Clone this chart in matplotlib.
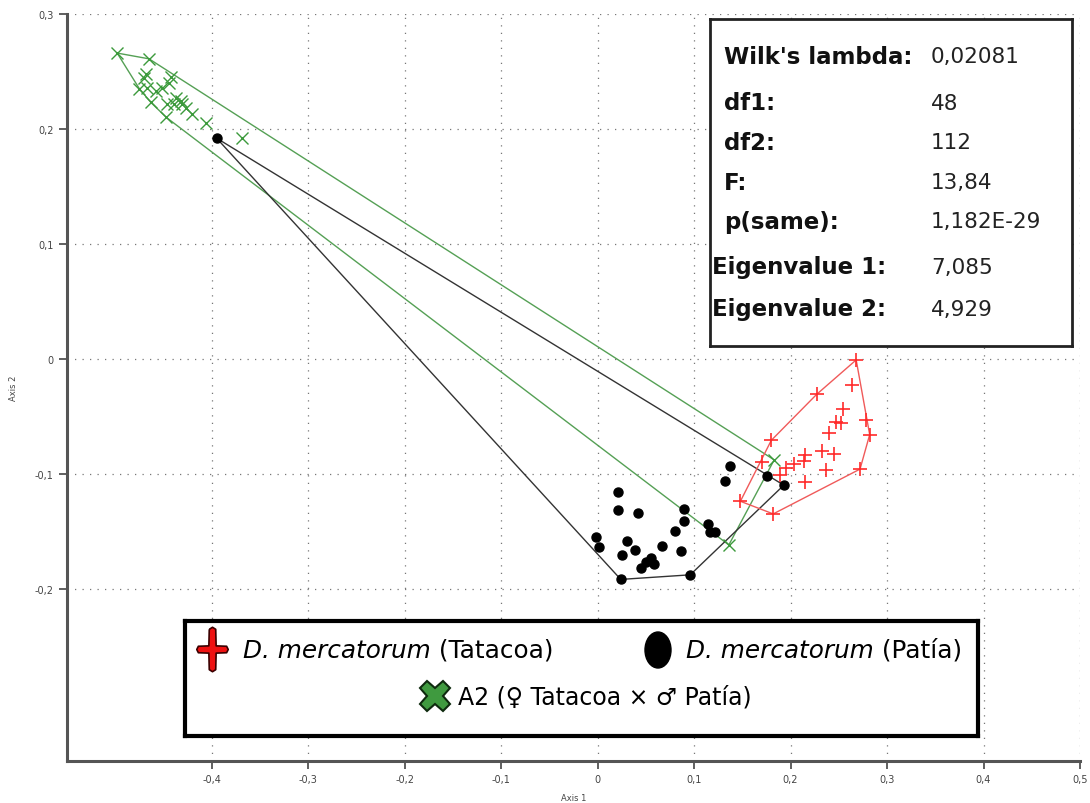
import numpy as np
import matplotlib
matplotlib.use("Agg")
import matplotlib.pyplot as plt
from matplotlib.path import Path
from matplotlib.patches import Ellipse
from matplotlib.ticker import FuncFormatter

# Discriminant scores (Axis 1, Axis 2) for each group
tatacoa_x = [0.268, 0.264, 0.227, 0.254, 0.278, 0.282, 0.247, 0.252, 0.240, 0.233,
             0.245, 0.215, 0.214, 0.204, 0.195, 0.189, 0.237, 0.272, 0.215, 0.180,
             0.170, 0.148, 0.182]
tatacoa_y = [-0.001, -0.023, -0.031, -0.044, -0.053, -0.066, -0.055, -0.056, -0.065, -0.080,
             -0.083, -0.084, -0.089, -0.092, -0.095, -0.101, -0.097, -0.096, -0.107, -0.071,
             -0.090, -0.124, -0.135]

patia_x = [-0.395, 0.137, 0.132, 0.176, 0.193, 0.021, 0.021, 0.042, 0.090, 0.090,
           -0.002, 0.001, 0.030, 0.025, 0.039, 0.067, 0.080, 0.086, 0.114, 0.117,
           0.122, 0.055, 0.050, 0.045, 0.058, 0.024, 0.096]
patia_y = [0.192, -0.093, -0.106, -0.102, -0.110, -0.116, -0.132, -0.134, -0.131, -0.141,
           -0.155, -0.164, -0.159, -0.171, -0.166, -0.163, -0.150, -0.167, -0.144, -0.151,
           -0.151, -0.173, -0.177, -0.182, -0.179, -0.192, -0.188]

a2_x = [-0.498, -0.465, -0.468, -0.470, -0.442, -0.444, -0.475, -0.467, -0.458, -0.452,
        -0.437, -0.432, -0.431, -0.439, -0.427, -0.446, -0.420, -0.463, -0.447, -0.406,
        -0.369, 0.183, 0.136]
a2_y = [0.266, 0.261, 0.248, 0.244, 0.245, 0.240, 0.235, 0.236, 0.233, 0.236,
        0.227, 0.224, 0.222, 0.222, 0.218, 0.222, 0.213, 0.223, 0.210, 0.205,
        0.192, -0.088, -0.162]

x_ticks = [-0.4, -0.3, -0.2, -0.1, 0, 0.1, 0.2, 0.3, 0.4, 0.5]
y_ticks = [-0.2, -0.1, 0, 0.1, 0.2, 0.3]

stat_labels = ["Wilk's lambda:", "df1:", "df2:", "F:", "p(same):",
               "Eigenvalue 1:", "Eigenvalue 2:"]
stat_values = ["0,02081", "48", "112", "13,84", "1,182E-29", "7,085", "4,929"]


def convex_hull(xs, ys):
    pts = sorted(set(zip(xs, ys)))

    def cross(o, a, b):
        return (a[0] - o[0]) * (b[1] - o[1]) - (a[1] - o[1]) * (b[0] - o[0])

    lower, upper = [], []
    for p in pts:
        while len(lower) >= 2 and cross(lower[-2], lower[-1], p) <= 0:
            lower.pop()
        lower.append(p)
    for p in reversed(pts):
        while len(upper) >= 2 and cross(upper[-2], upper[-1], p) <= 0:
            upper.pop()
        upper.append(p)
    h = lower[:-1] + upper[:-1]
    h.append(h[0])
    return [p[0] for p in h], [p[1] for p in h]


W, H = 1090, 804
fig = plt.figure(figsize=(W / 100, H / 100), dpi=100)
ax = fig.add_axes([67 / W, 1 - 762 / H, (1080 - 67) / W, (762 - 15) / H])

ax.set_xlim(-0.55, 0.5)
ax.set_ylim(-0.35, 0.3)

green = "#3c9a3c"
red = "#ff2a2a"

# convex hulls
hx, hy = convex_hull(a2_x, a2_y)
ax.plot(hx, hy, color="#55a055", lw=1.0, zorder=2)
hx, hy = convex_hull(patia_x, patia_y)
ax.plot(hx, hy, color="#333333", lw=1.0, zorder=2)
hx, hy = convex_hull(tatacoa_x, tatacoa_y)
ax.plot(hx, hy, color="#f05a5a", lw=1.0, zorder=2)

ax.plot(a2_x, a2_y, "x", color=green, ms=8, mew=1.0, zorder=3)
ax.plot(patia_x, patia_y, "o", color="black", ms=6.5, zorder=3)
ax.plot(tatacoa_x, tatacoa_y, "+", color=red, ms=10, mew=1.2, zorder=3)

ax.set_xticks(x_ticks)
ax.set_yticks(y_ticks)
fmt = FuncFormatter(lambda v, _: ("%g" % v).replace(".", ",") if abs(v) > 1e-9 else "0")
ax.xaxis.set_major_formatter(fmt)
ax.yaxis.set_major_formatter(fmt)
ax.tick_params(labelsize=7, length=6, width=1.2, colors="#444444", direction="out")
ax.grid(True, color="#777777", lw=0.9, linestyle=(0, (1, 5)))
ax.set_axisbelow(True)
for s in ["top", "right"]:
    ax.spines[s].set_visible(False)
for s in ["left", "bottom"]:
    ax.spines[s].set_linewidth(2.2)
    ax.spines[s].set_color("#555555")
ax.set_xlabel("Axis 1", fontsize=6, color="#444444", labelpad=6)
ax.set_ylabel("Axis 2", fontsize=6, color="#444444", labelpad=12)

# statistics box, in pixel-like coordinates
sx0, sx1, sy0, sy1 = 710, 1072, 20, 347
sax = fig.add_axes([sx0 / W, 1 - sy1 / H, (sx1 - sx0) / W, (sy1 - sy0) / H])
sax.set_xlim(sx0, sx1)
sax.set_ylim(sy1, sy0)
sax.set_xticks([])
sax.set_yticks([])
for s in sax.spines.values():
    s.set_linewidth(2)
    s.set_color("#222222")
row_y = [57, 104, 143, 183, 222, 268, 310]
for lab, val, yy in zip(stat_labels, stat_values, row_y):
    lx = 712 if lab.startswith("Eigen") else 724
    sax.text(lx, yy, lab, fontsize=16.5, fontweight="bold", va="center", ha="left",
             color="#111111")
    sax.text(931, yy, val, fontsize=15.5, va="center", ha="left", color="#222222")

# legend box
lx0, lx1, ly0, ly1 = 185, 978, 622, 737
lax = fig.add_axes([lx0 / W, 1 - ly1 / H, (lx1 - lx0) / W, (ly1 - ly0) / H])
lax.set_xlim(lx0, lx1)
lax.set_ylim(ly1, ly0)
lax.set_xticks([])
lax.set_yticks([])
for s in lax.spines.values():
    s.set_linewidth(3)
    s.set_color("black")

cross_verts = [(-0.16, 1.0), (0.0, 1.1), (0.16, 1.0), (0.18, 0.18), (0.7, 0.16), (0.78, 0.0),
               (0.7, -0.16), (0.18, -0.18), (0.16, -1.0), (0.0, -1.1), (-0.16, -1.0),
               (-0.18, -0.18), (-0.7, -0.16), (-0.78, 0.0), (-0.7, 0.16), (-0.18, 0.18),
               (-0.16, 1.0)]
lax.plot([212], [650], marker=Path(cross_verts), ms=32, mfc="#ee1111", mec="#3a0000",
         mew=1.2, ls="none")
lax.add_patch(Ellipse((658, 651), 26, 36, color="black"))
lax.plot([435], [697], marker="X", ms=22, mfc="#3f9a3f", mec="#0e2a0e", mew=1.5, ls="none")

fig.canvas.draw()
renderer = fig.canvas.get_renderer()


def name_with_site(x, y, site):
    t = lax.text(x, y, "D. mercatorum", fontsize=17.8, style="italic", va="center",
                 ha="left", color="black")
    bb = t.get_window_extent(renderer)
    x_end = lax.transData.inverted().transform((bb.x1, bb.y0))[0]
    lax.text(x_end, y, " (" + site + ")", fontsize=17.8, va="center", ha="left",
             color="black")


name_with_site(243, 651, "Tatacoa")
name_with_site(686, 651, "Patía")
lax.text(458, 698, "A2 (\u2640 Tatacoa \u00d7 \u2642 Patía)", fontsize=17, va="center",
         ha="left", color="black")

fig.savefig("out.png", dpi=100)
